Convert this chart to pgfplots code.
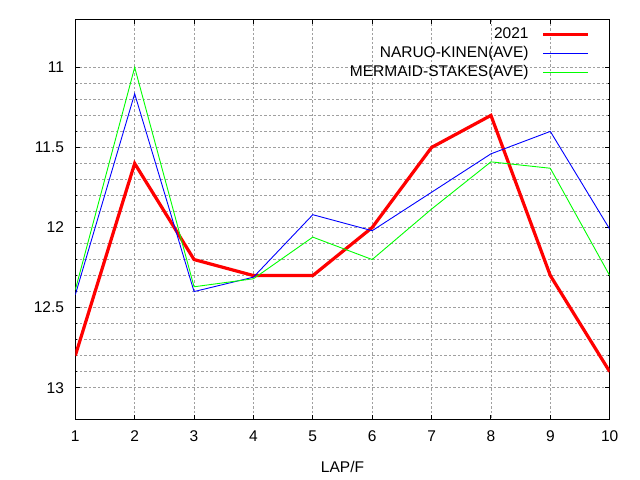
\documentclass[border=0pt]{standalone}
\usepackage{fontspec}
\setmainfont{Liberation Sans}
\usepackage{pgfplots}
\pgfplotsset{compat=1.18}
\definecolor{gridgray}{HTML}{A0A0A0}
\definecolor{lred}{HTML}{FF0000}
\definecolor{lblue}{HTML}{0000FF}
\definecolor{lgreen}{HTML}{00FF00}
\begin{document}
\fontsize{15.5bp}{18bp}\selectfont
\begin{tikzpicture}
\useasboundingbox (-75.3bp,-60.3bp) rectangle (564.7bp,419.7bp);
\begin{axis}[
  scale only axis,
  width=534.4bp, height=400.4bp,
  at={(0,0)}, anchor=south west,
  xmin=1, xmax=10, ymin=10.7, ymax=13.2,
  y dir=reverse,
  xtick={1,...,10},
  ytick={11,11.5,12,12.5,13},
  minor y tick num=4,
  tick pos=both, tick align=inside,
  major tick length=4.5bp, minor tick length=2bp,
  grid=both,
  major grid style={gridgray, line width=0.8bp, dash pattern=on 2.5bp off 2bp},
  minor grid style={gridgray, line width=0.8bp, dash pattern=on 2.5bp off 2bp},
  axis line style={black, line width=1bp},
  every tick/.style={black, line width=1bp},
  /pgf/number format/assume math mode=true,
  tick label style={font=\fontsize{15.5bp}{18bp}\selectfont},
  xticklabel style={yshift=-6bp},
  yticklabel style={xshift=-6bp},
  xlabel={LAP/F},
  xlabel style={font=\fontsize{15.5bp}{18bp}\selectfont, yshift=-9bp},
  legend plot pos=right,
  legend cell align=right,
  legend image code/.code={\draw[#1] (0bp,0bp) -- (45bp,0bp);},
  legend style={draw=none, fill=none, at={(rel axis cs:0.963,0.98)}, anchor=north east,
    inner sep=0pt, font=\fontsize{15.5bp}{18bp}\selectfont,
    nodes={inner sep=0pt, text height=11bp, text depth=3.5bp},
    row sep=4.5bp, column sep=13bp},
]
\addplot[lred, line width=3.2bp, line join=miter] coordinates {
(1,12.8) (2,11.6) (3,12.2) (4,12.3) (5,12.3) (6,12.0) (7,11.5) (8,11.3) (9,12.3) (10,12.9)};
\addlegendentry{2021}
\addplot[lblue, line width=0.9bp] coordinates {
(1,12.42) (2,11.165) (3,12.40) (4,12.31) (5,11.92) (6,12.02) (7,11.78) (8,11.54) (9,11.40) (10,12.01)};
\addlegendentry{NARUO-KINEN(AVE)}
\addplot[lgreen, line width=0.9bp] coordinates {
(1,12.39) (2,11.0) (3,12.37) (4,12.32) (5,12.06) (6,12.2) (7,11.885) (8,11.59) (9,11.63) (10,12.30)};
\addlegendentry{MERMAID-STAKES(AVE)}
\end{axis}
\end{tikzpicture}
\end{document}
